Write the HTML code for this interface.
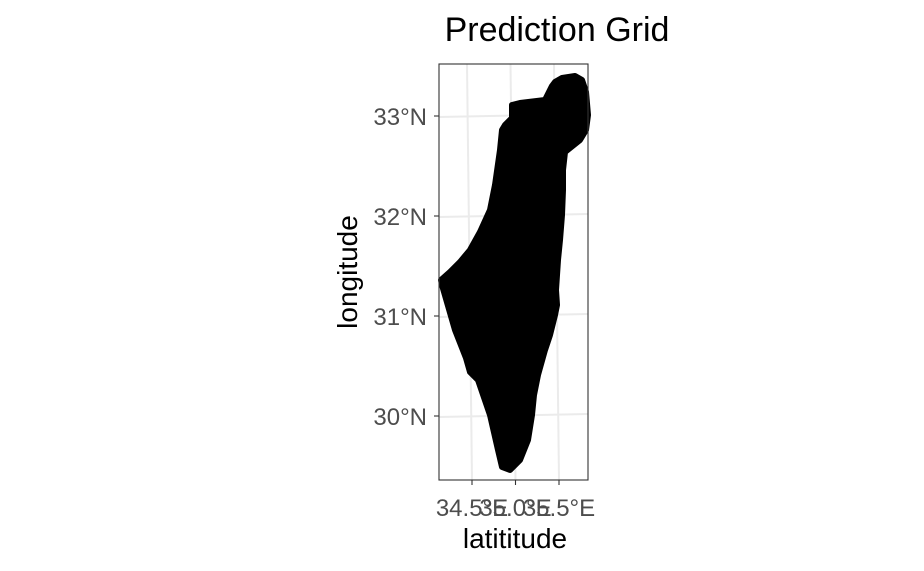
<!DOCTYPE html>
<html><head><meta charset="utf-8"><style>
body{margin:0;background:#fff;}
svg{display:block;font-family:"Liberation Sans",sans-serif;}
</style></head><body>
<svg width="924" height="571">
<g id="grid"></g>
<g id="marks"></g>
<rect x="439" y="64" width="149" height="416" fill="none" stroke="#333" stroke-width="1.1"/>
<g id="axes"></g>
<text x="557" y="41" font-size="34" text-anchor="middle">Prediction Grid</text>
<text x="515" y="548" font-size="28" text-anchor="middle">latititude</text>
<text transform="translate(357,272) rotate(-90)" font-size="28" text-anchor="middle">longitude</text>
</svg>
<script>
const xTicks=[34.5,35.0,35.5];
const xTickLabels=["34.5°E","35.0°E","35.5°E"];
const yTicks=[33,32,31,30];
const yTickLabels=["33°N","32°N","31°N","30°N"];
const outlineLon=[35.454,35.534,35.684,35.764,35.810,35.833,35.810,35.741,35.626,35.569,35.546,35.546,35.534,35.511,35.489,35.466,35.477,35.454,35.397,35.339,35.259,35.213,35.190,35.144,35.052,34.937,34.845,34.799,34.707,34.569,34.477,34.431,34.305,34.155,34.144,34.247,34.362,34.477,34.592,34.707,34.764,34.822,34.845,34.879,34.960,34.960,35.052,35.339,35.420];
const outlineLat=[33.34,33.38,33.40,33.36,33.24,33.01,32.86,32.76,32.68,32.64,32.46,32.26,32.01,31.76,31.56,31.26,31.11,31.01,30.81,30.66,30.41,30.21,30.01,29.76,29.56,29.46,29.49,29.66,30.01,30.36,30.44,30.58,30.86,31.31,31.36,31.44,31.54,31.66,31.84,32.06,32.31,32.66,32.86,32.91,32.98,33.11,33.13,33.16,33.30];
const NS="http://www.w3.org/2000/svg";
function xs(v){return 472+(v-34.5)*87;}
function ys(v){return 116+(33-v)*100;}
function mk(t,a,p){const e=document.createElementNS(NS,t);for(const k in a)e.setAttribute(k,a[k]);p.appendChild(e);return e;}
const grid=document.getElementById('grid'),axes=document.getElementById('axes'),marks=document.getElementById('marks');
xTicks.forEach((v,i)=>{
  const x=xs(v);
  const l=mk('line',{x1:x-5,y1:64,x2:x,y2:480,stroke:'#ebebeb','stroke-width':2},grid);
  
  
  const t=mk('line',{x1:x,y1:480,x2:x,y2:485,stroke:'#333','stroke-width':1.1},axes);
  
  
  const tx=mk('text',{x:x,y:516,'font-size':24,fill:'#4d4d4d','text-anchor':'middle'},axes);
  tx.textContent=xTickLabels[i];
  
  
});
yTicks.forEach((v,i)=>{
  const y=ys(v);
  const l=mk('line',{x1:439,y1:y+1,x2:588,y2:y-2,stroke:'#ebebeb','stroke-width':2},grid);
  
  
  const t=mk('line',{x1:434,y1:y,x2:439,y2:y,stroke:'#333','stroke-width':1.1},axes);
  
  
  const tx=mk('text',{x:427,y:y+9,'font-size':24,fill:'#4d4d4d','text-anchor':'end'},axes);
  tx.textContent=yTickLabels[i];
  
  
});
const pts=outlineLon.map((v,i)=>xs(v).toFixed(1)+','+ys(outlineLat[i]).toFixed(1)).join(' ');
const poly=mk('polygon',{points:pts,fill:'#000',stroke:'#000','stroke-width':6,'stroke-linejoin':'round'},marks);


</script>
</body></html>
